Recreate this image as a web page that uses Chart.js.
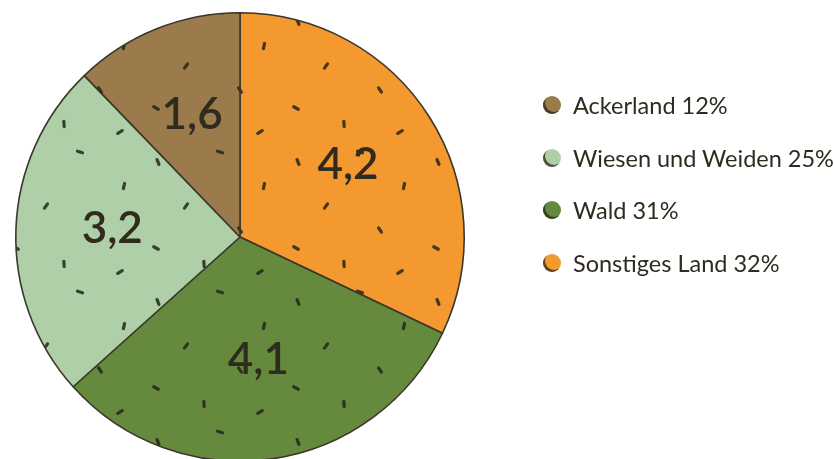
<!DOCTYPE html>
<html lang="de">
<head>
<meta charset="utf-8">
<script src="https://cdn.jsdelivr.net/npm/chart.js@4.4.1/dist/chart.umd.min.js"></script>
<style>
  html, body { margin: 0; padding: 0; background: #fff; overflow: hidden; }
  #wrap { position: relative; width: 834px; height: 459px; overflow: hidden; }
  #box { position: absolute; left: 0; top: 0; width: 834px; height: 470px; }
  #legend { position: absolute; left: 543px; top: 79px; font-family: Lato, "Noto Sans", sans-serif; color: #2f2b1f; }
  .lg-row { display: flex; align-items: center; height: 52.5px; font-size: 23.5px; white-space: nowrap; }
  .lg-dot { width: 18px; height: 18px; border-radius: 50%; margin-right: 12px;
            box-shadow: inset 2px -2px 0 rgba(45,38,22,.75); }
</style>
</head>
<body>
<div id="wrap">
  <div id="box"><canvas id="pie"></canvas></div>
  <div id="legend"></div>
</div>
<script>
'use strict';

// Landnutzung (Werte in Mio. ha), im Uhrzeigersinn ab 12 Uhr
const labels  = ['Sonstiges Land', 'Wald', 'Wiesen und Weiden', 'Ackerland'];
const values  = [4.2, 4.1, 3.2, 1.6];
const percent = [32, 31, 25, 12];
const colors  = ['#f4992f', '#658a3e', '#aecfa8', '#9b7b4c'];

const INK = '#2f2b1f';

// sparse speckle tile so the fills look a little hand-stippled
function speckle(base) {
  const t = document.createElement('canvas');
  t.width = 140; t.height = 140;
  const g = t.getContext('2d');
  g.fillStyle = base;
  g.fillRect(0, 0, 140, 140);
  g.strokeStyle = 'rgba(38,36,26,.85)';
  g.lineWidth = 3.2;
  g.lineCap = 'round';
  const marks = [[18, 22, 1.2], [80, 12, 0.3], [124, 46, 1.8], [46, 66, 2.2],
                 [100, 90, 1.0], [16, 108, 0.5], [64, 124, 1.5], [120, 132, 2.6]];
  marks.forEach(([x, y, a]) => {
    g.beginPath();
    g.moveTo(x - Math.cos(a) * 2.6, y - Math.sin(a) * 2.6);
    g.lineTo(x + Math.cos(a) * 2.6, y + Math.sin(a) * 2.6);
    g.stroke();
  });
  return g.createPattern(t, 'repeat');
}

// value labels inside each slice
const sliceLabels = {
  id: 'sliceLabels',
  afterDatasetsDraw(chart) {
    const ctx = chart.ctx;
    const meta = chart.getDatasetMeta(0);
    ctx.save();
    ctx.fillStyle = INK;
    ctx.font = '600 44px Lato, "Noto Sans", sans-serif';
    ctx.textAlign = 'center';
    ctx.textBaseline = 'middle';
    meta.data.forEach((arc, i) => {
      const mid = (arc.startAngle + arc.endAngle) / 2;
      const r = arc.outerRadius * 0.57;
      const txt = values[i].toLocaleString('de-DE');
      ctx.fillText(txt, arc.x + Math.cos(mid) * r, arc.y + Math.sin(mid) * r - 4);
    });
    ctx.restore();
  }
};

const chart = new Chart(document.getElementById('pie'), {
  type: 'pie',
  data: {
    labels: labels,
    datasets: [{
      data: values,
      backgroundColor: colors.map(speckle),
      borderColor: '#3b372c',
      borderWidth: 1.6,
      hoverOffset: 0
    }]
  },
  options: {
    responsive: true,
    maintainAspectRatio: false,
    animation: false,
    events: [],
    layout: { padding: { left: 15, top: 12, right: 369, bottom: 8 } },
    plugins: { legend: { display: false }, tooltip: { enabled: false } }
  },
  plugins: [sliceLabels]
});

// legend listed bottom-up: smallest share first
const lg = document.getElementById('legend');
labels.map((l, i) => i).reverse().forEach(i => {
  const row = document.createElement('div');
  row.className = 'lg-row';
  row.innerHTML = `<span class="lg-dot" style="background:${colors[i]}"></span>${labels[i]} ${percent[i]}%`;
  lg.appendChild(row);
});
</script>
</body>
</html>
